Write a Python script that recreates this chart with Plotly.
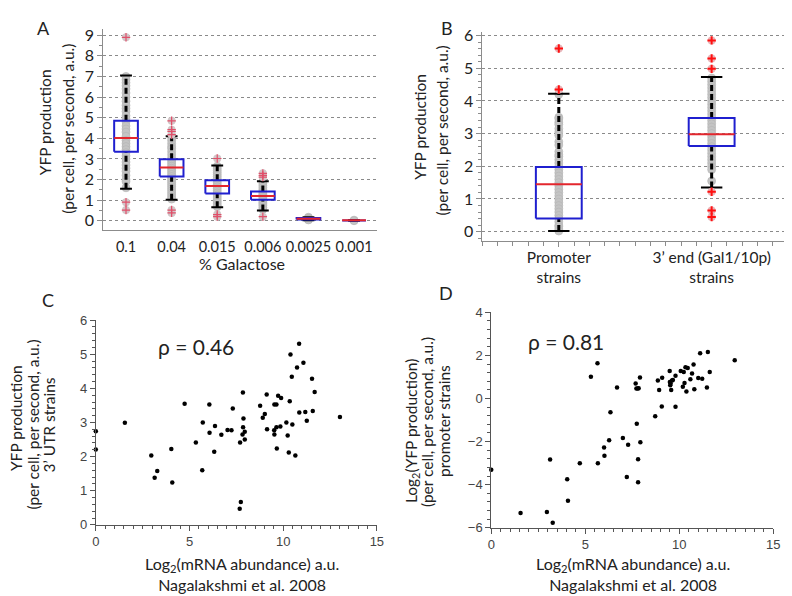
import plotly.graph_objects as go

# ---- panel A: YFP production at each galactose concentration ----
a_labels = ["0.1", "0.04", "0.015", "0.006", "0.0025", "0.001"]
a_q1 = [3.35, 2.15, 1.32, 1.02, 0.06, 0.01]
a_med = [4.02, 2.58, 1.68, 1.20, 0.10, 0.02]
a_q3 = [4.85, 2.98, 1.97, 1.42, 0.13, 0.03]
a_lo = [1.55, 1.02, 0.65, 0.50, 0.03, 0.00]
a_hi = [7.05, 4.10, 2.68, 1.92, 0.17, 0.04]
a_points = [
    [7.0, 6.85, 6.7, 6.55, 6.4, 6.2, 6.0, 5.8, 5.6, 5.45, 5.3, 5.1, 4.95, 4.8,
     4.6, 4.45, 4.3, 4.1, 3.9, 3.75, 3.6, 3.45, 3.3, 3.15, 3.0, 2.85, 2.7,
     2.55, 2.4, 2.2, 2.0, 1.9, 1.6],
    [4.05, 3.9, 3.75, 3.6, 3.5, 3.35, 3.2, 3.05, 2.95, 2.85, 2.75, 2.65, 2.55,
     2.45, 2.35, 2.25, 2.15, 2.05, 1.95, 1.85, 1.75, 1.65, 1.55, 1.45, 1.35,
     1.25, 1.15, 1.05],
    [2.65, 2.55, 2.45, 2.35, 2.25, 2.15, 2.05, 1.95, 1.85, 1.75, 1.65, 1.55,
     1.45, 1.35, 1.25, 1.15, 1.05, 0.95, 0.85, 0.75, 0.68],
    [1.9, 1.8, 1.7, 1.6, 1.5, 1.42, 1.35, 1.28, 1.2, 1.12, 1.05, 0.98, 0.9,
     0.82, 0.75, 0.65, 0.55],
    [0.17, 0.13, 0.1, 0.07, 0.04],
    [0.03, 0.0],
]
a_outliers = [
    [8.9, 0.9, 0.52],
    [4.85, 4.42, 4.33, 4.18, 0.52, 0.38],
    [3.02, 0.3, 0.2],
    [2.3, 2.2, 2.12, 0.2],
    [],
    [],
]

# ---- panel B: promoter vs 3' end strains ----
b_labels = ["Promoter<br>strains", "3’ end (Gal1/10p)<br>strains"]
b_q1 = [0.40, 2.62]
b_med = [1.45, 2.98]
b_q3 = [1.98, 3.48]
b_lo = [0.02, 1.35]
b_hi = [4.22, 4.73]
b_points = [
    [4.2, 3.5, 3.45, 3.35, 3.28, 3.15, 3.05, 2.95, 2.75, 2.65, 2.45, 2.35, 2.3,
     2.2, 2.1, 2.0, 1.9, 1.8, 1.7, 1.6, 1.5, 1.4, 1.3, 1.2, 1.1, 1.0, 0.9, 0.8,
     0.7, 0.6, 0.5, 0.4, 0.3, 0.2, 0.15, 0.08, 0.02],
    [4.7, 4.6, 4.5, 4.4, 4.3, 4.2, 4.1, 4.0, 3.9, 3.8, 3.7, 3.6, 3.5, 3.4, 3.3,
     3.2, 3.1, 3.0, 2.9, 2.8, 2.7, 2.6, 2.5, 2.4, 2.3, 2.2, 2.1, 2.0, 1.9, 1.55],
]
b_outliers = [[5.6, 4.35], [5.85, 5.3, 4.98, 1.22, 0.65, 0.45]]

# ---- panel C: 3' UTR strains vs mRNA abundance ----
c_mrna = [0.0, 0.0, 1.55, 2.96, 3.14, 3.28, 4.03, 4.08, 4.74, 5.34, 5.68, 5.71,
          6.06, 6.07, 6.32, 6.36, 6.70, 7.03, 7.24, 7.31, 7.70, 7.83, 7.85, 7.86,
          7.88, 7.95, 7.95, 7.74, 7.68, 8.77, 8.91, 9.02, 9.12, 9.14, 9.52, 9.53,
          9.53, 9.64, 9.64, 9.66, 9.73, 9.85, 9.89, 10.17, 10.24, 10.30, 10.35,
          10.39, 10.46, 10.49, 10.65, 10.74, 10.85, 10.86, 11.08, 11.18, 11.26,
          11.54, 11.58, 11.68, 13.03]
c_yfp = [2.74, 2.21, 2.99, 2.03, 1.38, 1.58, 2.22, 1.24, 3.55, 2.41, 1.60, 3.00,
         3.53, 2.70, 2.14, 2.90, 2.64, 2.78, 2.77, 3.41, 2.41, 2.65, 3.88, 2.86,
         3.12, 2.73, 2.50, 0.67, 0.47, 3.49, 3.14, 3.25, 3.82, 2.80, 2.77, 2.65,
         3.53, 3.53, 2.86, 2.24, 3.78, 2.88, 3.72, 3.00, 2.62, 2.12, 3.62, 4.99,
         4.34, 2.94, 2.03, 4.61, 5.31, 3.29, 4.75, 3.31, 3.05, 4.28, 3.34, 3.89,
         3.16]

# ---- panel D: promoter strains (log2) vs mRNA abundance ----
d_mrna = [0.0, 1.56, 2.96, 3.13, 3.27, 4.04, 4.08, 4.71, 5.30, 5.65, 5.67, 6.00,
          6.02, 6.27, 6.34, 6.69, 7.00, 7.21, 7.28, 7.68, 7.72, 7.74, 7.79, 7.81,
          7.81, 7.84, 7.91, 7.93, 8.72, 8.86, 8.93, 9.07, 9.09, 9.49, 9.50, 9.52,
          9.54, 9.57, 9.61, 9.66, 9.80, 9.80, 10.08, 10.19, 10.24, 10.28, 10.33,
          10.38, 10.45, 10.59, 10.68, 10.76, 10.80, 11.11, 11.01, 11.22, 11.47,
          11.52, 11.62, 12.95]
d_log_yfp = [-3.31, -5.32, -5.27, -2.83, -5.77, -3.75, -4.75, -3.01, 1.01, 1.64,
             -3.00, -2.27, -2.66, -1.94, -0.64, 0.51, -1.83, -3.64, -2.15, 0.70,
             0.46, -1.17, 0.46, -2.82, -3.89, 0.48, 0.98, -2.03, -0.82, 0.83,
             0.39, -0.37, 0.96, 1.28, 0.76, 0.61, 0.70, 0.40, 0.83, 0.86, 1.05,
             -0.38, 1.28, 0.55, 1.23, 0.72, 1.45, 0.33, 1.41, 0.89, 1.16, 1.58,
             0.43, 2.10, 0.95, 0.92, 0.51, 2.16, 1.23, 1.78]

W, H = 792, 596
BLUE = "#1f1fcf"
RED = "#e3262d"
GREY = "#c4c4c4"
BOX_AXIS = "#8c8c8c"
SC_AXIS = "#555555"
FONT = "Lato, sans-serif"


def px_x(v):
    return v / W


def px_y(v):
    return 1 - v / H


def add_boxplot(fig, xa, ya, q1, med, q3, lo, hi, points, outliers,
                half_w, cap_w, out_fill, plus_color, plus_w):
    pos = list(range(1, len(q1) + 1))

    # raw points behind everything
    gx, gy = [], []
    for p, vals in zip(pos, points):
        gx += [p] * len(vals)
        gy += vals
    fig.add_trace(go.Scatter(
        x=gx, y=gy, mode="markers", xaxis=xa, yaxis=ya,
        marker=dict(size=8, color=GREY, line=dict(color="#b4b4b4", width=0.6)),
    ))

    # dashed whiskers
    wx, wy = [], []
    for p, a, b, c, d in zip(pos, lo, q1, q3, hi):
        wx += [p, p, None, p, p, None]
        wy += [a, b, None, c, d, None]
    fig.add_trace(go.Scatter(
        x=wx, y=wy, mode="lines", xaxis=xa, yaxis=ya,
        line=dict(color="black", width=3, dash="6px,3px"),
    ))

    # whisker caps
    cx, cy = [], []
    for p, a, d in zip(pos, lo, hi):
        for v in (a, d):
            cx += [p - cap_w, p + cap_w, None]
            cy += [v, v, None]
    fig.add_trace(go.Scatter(
        x=cx, y=cy, mode="lines", xaxis=xa, yaxis=ya,
        line=dict(color="black", width=2),
    ))

    # boxes
    bx, by = [], []
    for p, b, c in zip(pos, q1, q3):
        bx += [p - half_w, p + half_w, p + half_w, p - half_w, p - half_w, None]
        by += [b, b, c, c, b, None]
    fig.add_trace(go.Scatter(
        x=bx, y=by, mode="lines", xaxis=xa, yaxis=ya,
        line=dict(color=BLUE, width=2),
    ))

    # medians
    mx, my = [], []
    for p, m in zip(pos, med):
        mx += [p - half_w, p + half_w, None]
        my += [m, m, None]
    fig.add_trace(go.Scatter(
        x=mx, y=my, mode="lines", xaxis=xa, yaxis=ya,
        line=dict(color=RED, width=2),
    ))

    # outliers: grey disc with a red plus on top
    ox, oy = [], []
    for p, vals in zip(pos, outliers):
        ox += [p] * len(vals)
        oy += vals
    fig.add_trace(go.Scatter(
        x=ox, y=oy, mode="markers", xaxis=xa, yaxis=ya,
        marker=dict(size=8, color=out_fill),
    ))
    fig.add_trace(go.Scatter(
        x=ox, y=oy, mode="markers", xaxis=xa, yaxis=ya,
        marker=dict(symbol="cross-thin", size=6,
                    line=dict(color=plus_color, width=plus_w)),
    ))


fig = go.Figure()

add_boxplot(fig, "x", "y", a_q1, a_med, a_q3, a_lo, a_hi, a_points, a_outliers,
            0.26, 0.13, "#d2c6c8", "#e0506a", 1.2)
add_boxplot(fig, "x2", "y2", b_q1, b_med, b_q3, b_lo, b_hi, b_points, b_outliers,
            0.15, 0.07, "#e8b4b8", "#ff1010", 2)

fig.add_trace(go.Scatter(
    x=c_mrna, y=c_yfp, mode="markers", xaxis="x3", yaxis="y3", cliponaxis=False,
    marker=dict(size=4.5, color="black"),
))
fig.add_trace(go.Scatter(
    x=d_mrna, y=d_log_yfp, mode="markers", xaxis="x4", yaxis="y4", cliponaxis=False,
    marker=dict(size=4.5, color="black"),
))

box_y = dict(
    showline=True, linecolor=BOX_AXIS, linewidth=1, zeroline=False,
    showgrid=True, gridcolor="#8a8a8a", griddash="3px,3px", gridwidth=1,
    ticks="outside", ticklen=5, tickcolor=BOX_AXIS, tick0=0, dtick=1,
    tickfont=dict(family=FONT, size=16, color="#222222"),
)
sc_font = dict(family="Liberation Sans, Arial, sans-serif", size=13, color="#444444")
sc_axis = dict(
    showline=True, linecolor=SC_AXIS, linewidth=1, zeroline=False, showgrid=False,
    ticks="outside", ticklen=5, tickcolor=SC_AXIS, tickfont=sc_font,
)

fig.update_layout(
    width=W, height=H, autosize=False,
    margin=dict(l=0, r=0, t=0, b=0),
    paper_bgcolor="white", plot_bgcolor="white",
    showlegend=False,
    font=dict(family=FONT, color="#222222"),
    xaxis=dict(
        domain=[px_x(92.5), px_x(370)], range=[0.5, 6.5], anchor="y",
        showline=True, linecolor=BOX_AXIS, zeroline=False, showgrid=False,
        tickvals=list(range(1, 7)), ticktext=a_labels, ticks="", tickangle=0,
        ticklabelstandoff=3,
        tickfont=dict(family=FONT, size=14.5, color="#222222"),
    ),
    yaxis=dict(
        domain=[px_y(221), px_y(14)], range=[-0.47, 9.32], anchor="x",
        minor=dict(dtick=0.5, ticks="outside", ticklen=3, tickcolor=BOX_AXIS),
        **box_y,
    ),
    xaxis2=dict(
        domain=[px_x(477), px_x(787)], range=[0.5, 2.5], anchor="y2",
        showline=True, linecolor=BOX_AXIS, zeroline=False, showgrid=False,
        tickvals=[1, 2], ticktext=b_labels, ticks="outside", ticklen=5,
        tickcolor=BOX_AXIS, ticklabelstandoff=-3, tickangle=0,
        minor=dict(tick0=0, dtick=0.1, ticks="outside", ticklen=4, tickcolor=BOX_AXIS),
        tickfont=dict(family=FONT, size=15.5, color="#222222"),
    ),
    yaxis2=dict(
        domain=[px_y(232), px_y(17)], range=[-0.29, 6.12], anchor="x2",
        minor=dict(dtick=0.2, ticks="outside", ticklen=3, tickcolor=BOX_AXIS),
        **box_y,
    ),
    xaxis3=dict(
        domain=[px_x(85), px_x(370)], range=[0, 15], anchor="y3",
        tick0=0, dtick=5,
        minor=dict(dtick=0.5, ticks="outside", ticklen=3, tickcolor=SC_AXIS),
        **sc_axis,
    ),
    yaxis3=dict(
        domain=[px_y(523), px_y(313)], range=[0, 6], anchor="x3",
        tick0=0, dtick=1,
        minor=dict(dtick=0.2, ticks="outside", ticklen=3, tickcolor=SC_AXIS),
        **sc_axis,
    ),
    xaxis4=dict(
        domain=[px_x(486), px_x(772)], range=[0, 15], anchor="y4",
        tick0=0, dtick=5,
        minor=dict(dtick=0.5, ticks="outside", ticklen=3, tickcolor=SC_AXIS),
        **sc_axis,
    ),
    yaxis4=dict(
        domain=[px_y(526), px_y(305)], range=[-6, 4], anchor="x4",
        tick0=0, dtick=2,
        minor=dict(dtick=0.4, ticks="outside", ticklen=3, tickcolor=SC_AXIS),
        **sc_axis,
    ),
)


def note(text, x, y, size=15.5, angle=0):
    # rotated single-line labels land a few px right of centre; pull them back
    if angle:
        x -= 0.42 * size
    fig.add_annotation(
        text=text, x=px_x(x), y=px_y(y), xref="paper", yref="paper",
        showarrow=False, textangle=angle, xanchor="center", yanchor="middle",
        font=dict(family=FONT, size=size, color="#222222"),
    )


# panel letters
note("A", 32, 13, size=18)
note("B", 441, 13, size=18)
note("C", 37, 292, size=18)
note("D", 440, 285, size=18)

# panel A titles
note("YFP production", 40, 110, angle=-90)
note("(per cell, per second, a.u.)", 63, 117, angle=-90)
note("% Galactose", 233, 255, size=16)

# panel B titles
note("YFP production", 420, 115, angle=-90)
note("(per cell, per second, a.u.)", 443, 118, angle=-90)

# panel C titles
note("YFP production", 10, 413, angle=-90)
note("(per cell, per second, a.u.)", 28, 420, angle=-90)
note("3’ UTR strains", 44, 420, angle=-90)
note("Log<sub>2</sub>(mRNA abundance) a.u.<br>Nagalakshmi et al. 2008", 233, 573,
     size=16)
note("ρ = 0.46", 187, 340, size=21)

# panel D titles
note("Log<sub>2</sub>(YFP production)", 412, 427, angle=-90)
note("(per cell, per second, a.u.)", 428, 418, angle=-90)
note("promoter strains", 444, 416, angle=-90)
note("Log<sub>2</sub>(mRNA abundance) a.u.<br>Nagalakshmi et al. 2008", 630, 573,
     size=16)
note("ρ = 0.81", 562, 335, size=21)

fig.write_html("out.html")
